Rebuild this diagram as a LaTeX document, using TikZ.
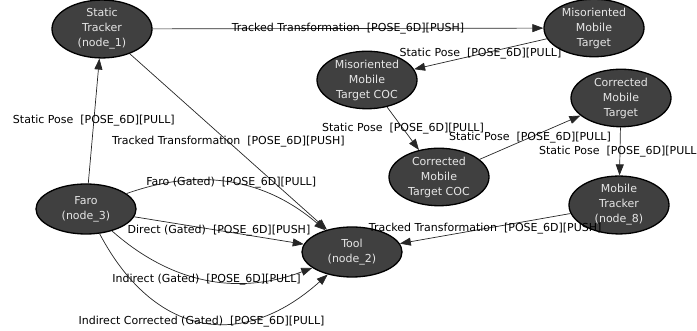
\documentclass[tikz,border=0pt]{standalone}
\usepackage{fontspec}
\setmainfont{DejaVu Sans}
\usetikzlibrary{shapes.geometric,arrows.meta}

\definecolor{vertexgray}{HTML}{404040}
\definecolor{vertextext}{HTML}{E6E6E6}

% vertex centres (pixel grid, y up)
\newcommand{\STX}{102}
\newcommand{\STY}{302}
\newcommand{\MMTX}{594}
\newcommand{\MMTY}{303}
\newcommand{\MCOCX}{367}
\newcommand{\MCOCY}{251}
\newcommand{\CMTX}{621}
\newcommand{\CMTY}{233}
\newcommand{\CCOCX}{439}
\newcommand{\CCOCY}{154}
\newcommand{\MTX}{619}
\newcommand{\MTY}{126}
\newcommand{\TOOLX}{352}
\newcommand{\TOOLY}{79}
\newcommand{\FAROX}{86}
\newcommand{\FAROY}{122}

\begin{document}
\begin{tikzpicture}[x=1pt,y=1pt]
\tikzstyle{every node}=[font=\fontsize{11}{15}\selectfont]
\tikzstyle{vertex}=[ellipse, draw=black, line width=1.3pt, fill=vertexgray, text=vertextext, minimum width=100pt, minimum height=50pt, inner sep=0pt, align=center]
\tikzstyle{link}=[draw=black!85, line width=0.7pt, -{Triangle[length=11pt,width=8pt]}]
\tikzstyle{tag}=[midway, inner sep=0pt, text=black]

\useasboundingbox (0,0) rectangle (697,331);

% Vertices
	\node[vertex] (st)   at ({\STX},{\STY})     {Static\\Tracker\\(node\_1)};
	\node[vertex] (mmt)  at ({\MMTX},{\MMTY})   {Misoriented\\Mobile\\Target};
	\node[vertex] (mcoc) at ({\MCOCX},{\MCOCY}) {Misoriented\\Mobile\\Target COC};
	\node[vertex] (cmt)  at ({\CMTX},{\CMTY})   {Corrected\\Mobile\\Target};
	\node[vertex] (ccoc) at ({\CCOCX},{\CCOCY}) {Corrected\\Mobile\\Target COC};
	\node[vertex] (mt)   at ({\MTX},{\MTY})     {Mobile\\Tracker\\(node\_8)};
	\node[vertex] (tool) at ({\TOOLX},{\TOOLY}) {Tool\\(node\_2)};
	\node[vertex] (faro) at ({\FAROX},{\FAROY}) {Faro\\(node\_3)};

% Tracker chain
	\draw[link] (st) -- node[tag] {Tracked Transformation\ \ [POSE\_6D][PUSH]} (mmt);
	\draw[link] (mmt) -- node[tag] {Static Pose\ \ [POSE\_6D][PULL]} (mcoc);
	\draw[link] (mcoc) -- node[tag] {Static Pose\ \ [POSE\_6D][PULL]} (ccoc);
	\draw[link] (ccoc) -- node[tag] {Static Pose\ \ [POSE\_6D][PULL]} (cmt);
	\draw[link] (cmt) -- node[tag] {Static Pose\ \ [POSE\_6D][PULL]} (mt);
	\draw[link] (mt) -- node[tag] {Tracked Transformation\ \ [POSE\_6D][PUSH]} (tool);

	\draw[link] (faro) -- node[tag] {Static Pose\ \ [POSE\_6D][PULL]} (st);
	\draw[link] (st) -- node[tag] {Tracked Transformation\ \ [POSE\_6D][PUSH]} (tool);

% Faro to tool
	\draw[link] (faro) to[bend left=30] node[tag] {Faro (Gated)\ \ [POSE\_6D][PULL]} (tool);
	\draw[link] (faro) -- node[tag] {Direct (Gated)\ \ [POSE\_6D][PUSH]} (tool);
	\draw[link] (faro) to[bend right=31] node[tag] {Indirect (Gated)\ \ [POSE\_6D][PULL]} (tool);
	\draw[link] (faro) to[bend right=52, looseness=1.28] node[tag] {Indirect Corrected (Gated)\ \ [POSE\_6D][PULL]} (tool);

\end{tikzpicture}
\end{document}
